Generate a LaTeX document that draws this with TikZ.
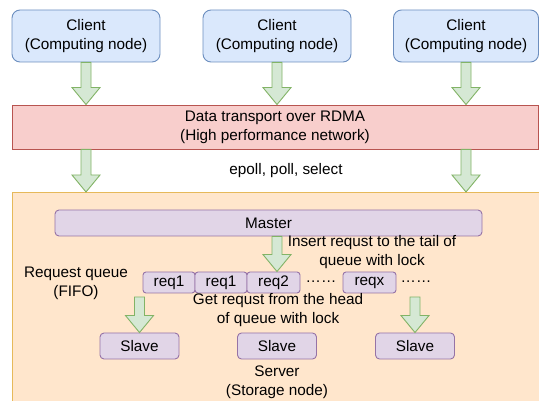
\documentclass[tikz,border=0pt]{standalone}
\usepackage{fontspec}
\setmainfont{Liberation Sans}
\usetikzlibrary{calc}

\definecolor{cliFill}{HTML}{DAE8FC}\definecolor{cliLine}{HTML}{6C8EBF}
\definecolor{netFill}{HTML}{F8CECC}\definecolor{netLine}{HTML}{B85450}
\definecolor{srvFill}{HTML}{FFE6CC}\definecolor{srvLine}{HTML}{E6B95A}
\definecolor{purFill}{HTML}{E1D5E7}\definecolor{purLine}{HTML}{9673A6}
\definecolor{arrFill}{HTML}{D5E8D4}\definecolor{arrLine}{HTML}{82B366}

\tikzset{
  txt/.style={font=\fontsize{15.3}{19}\selectfont, align=center, inner sep=0pt, text=black},
  client/.style={txt, draw=cliLine, fill=cliFill, rounded corners=8pt, line width=0.9pt,
                 minimum width=148pt, minimum height=52pt},
  bandbox/.style={txt, draw=netLine, fill=netFill, line width=0.9pt},
  purbox/.style={txt, draw=purLine, fill=purFill, rounded corners=4pt, line width=0.9pt},
  qbox/.style={purbox, rounded corners=3pt, minimum width=52pt, minimum height=21pt},
  slavebox/.style={purbox, minimum width=79pt, minimum height=26pt},
  fatarrow/.style={draw=arrLine, fill=arrFill, line width=0.9pt, line join=miter}
}

% block arrow drawn from point #1 straight down to point #2
\newcommand\fatarrow[2]{%
  \draw[fatarrow] let \p1=(#1), \p2=(#2) in
    (\x1-5pt,\y1) -- (\x1+5pt,\y1) -- (\x1+5pt,\y2+17pt) -- (\x1+14pt,\y2+17pt)
    -- (\x1,\y2) -- (\x1-14pt,\y2+17pt) -- (\x1-5pt,\y2+17pt) -- cycle;}

\begin{document}
\begin{tikzpicture}[x=1pt,y=-1pt]
  \useasboundingbox (0,0) rectangle (539,401);

  % clients
  \node[client] (c1) at (86,36) {Client\\(Computing node)};
  \node[client] (c2) at (277,36) {Client\\(Computing node)};
  \node[client, minimum width=145pt] (c3) at (466,36) {Client\\(Computing node)};

  % network band
  \node[bandbox, minimum width=526pt, minimum height=44pt] (net) at (275,127)
    {Data transport over RDMA\\(High performance network)};

  \node[txt] (ep) at (286,171) {epoll, poll, select};

  % server container
  \node[draw=srvLine, fill=srvFill, line width=0.9pt, minimum width=560pt,
        minimum height=240pt, inner sep=0pt, anchor=north west] (srv) at (12,192) {};

  \node[purbox, minimum width=427pt, minimum height=26pt] (master) at (268.5,223) {Master};

  \node[txt] (qlab) at (76,283) {Request queue\\(FIFO)};
  \node[qbox] (q1) at (169,282.5) {req1};
  \node[qbox] (q2) at (221,282.5) {req1};
  \node[qbox, minimum width=53pt] (q3) at (273.5,282.5) {req2};
  \node[txt] (d1) at (321,282) {……};
  \node[qbox, minimum width=53pt] (q4) at (369.5,282.5) {reqx};
  \node[txt] (d2) at (416,282) {……};

  \node[txt] (ins) at (372,252) {Insert requst to the tail of\\queue with lock};
  \node[txt] (get) at (278,310) {Get requst from the head\\of queue with lock};

  \node[slavebox] (s1) at (139.5,346) {Slave};
  \node[slavebox] (s2) at (277,346) {Slave};
  \node[slavebox] (s3) at (415,346) {Slave};

  \node[txt] (srvlab) at (277,382) {Server\\(Storage node)};

  % helper coordinates for arrow positions
  \coordinate (mq) at (277,0);
  \coordinate (qout) at (0,297);

  % arrows
  \fatarrow{c1.south}{c1.south |- net.north}
  \fatarrow{c2.south}{c2.south |- net.north}
  \fatarrow{c3.south}{c3.south |- net.north}
  \fatarrow{c1.south |- net.south}{c1.south |- srv.north}
  \fatarrow{c3.south |- net.south}{c3.south |- srv.north}
  \fatarrow{mq |- master.south}{mq |- q3.north}
  \fatarrow{s1.north |- qout}{s1.north}
  \fatarrow{s3.north |- qout}{s3.north}
\end{tikzpicture}
\end{document}
